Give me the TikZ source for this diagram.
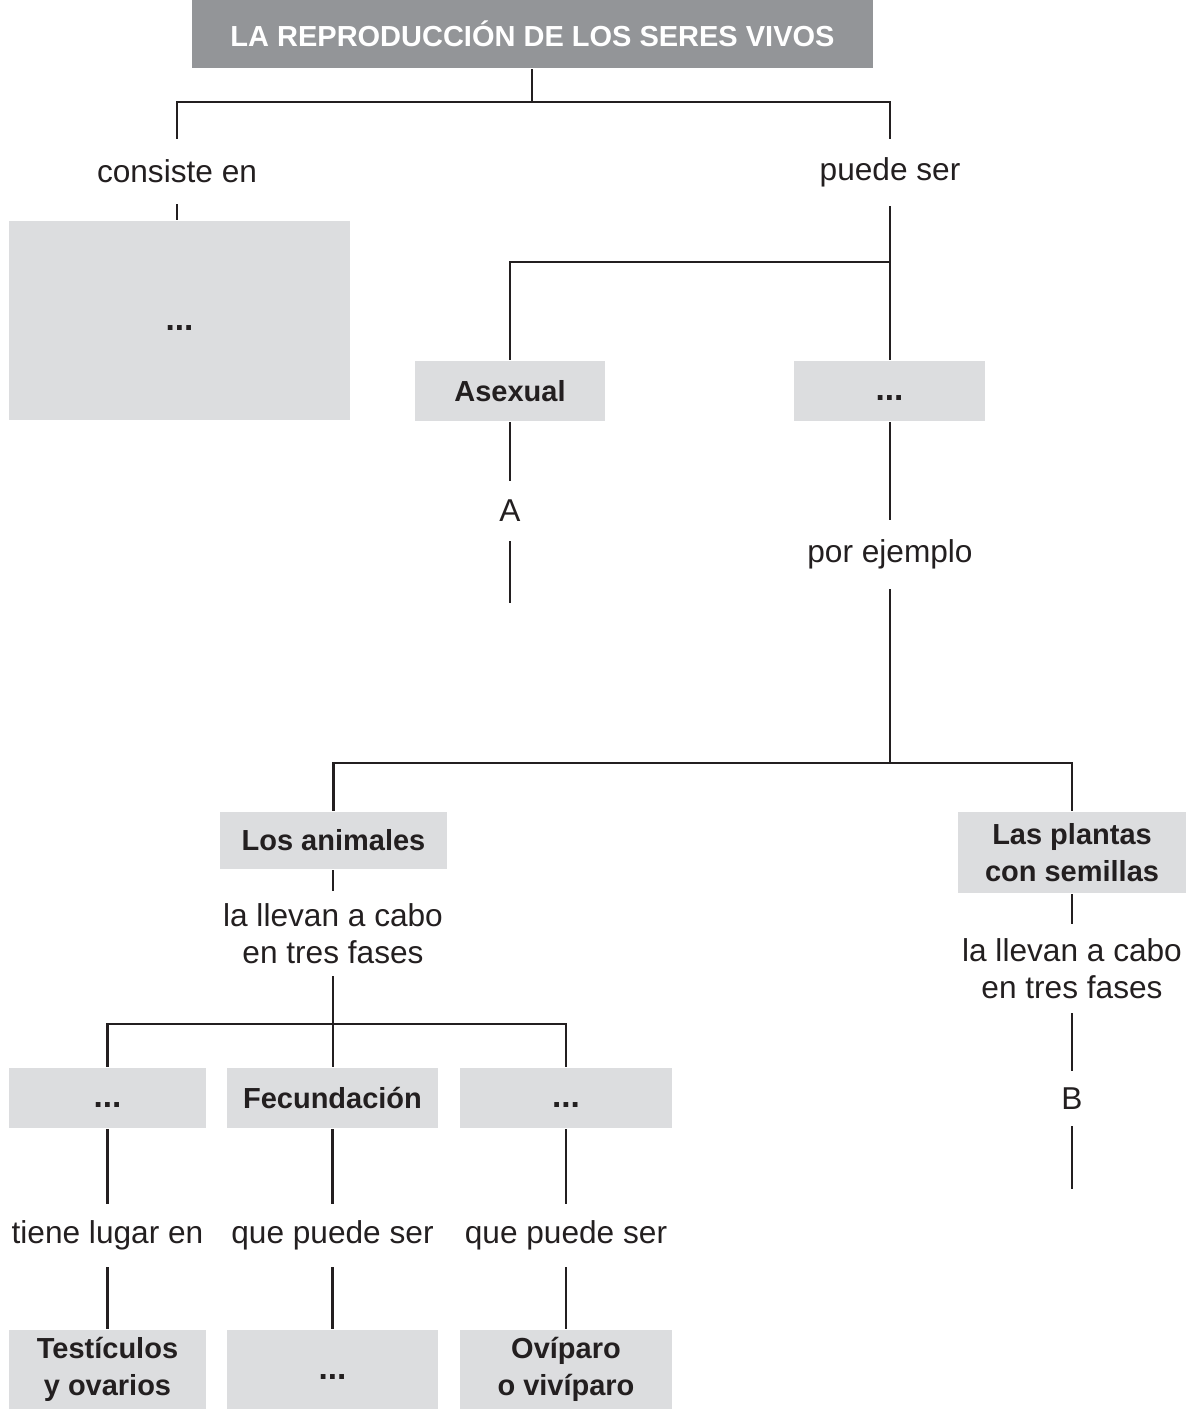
\documentclass[tikz,border=0pt]{standalone}
\usepackage{fontspec}
\setmainfont{Liberation Sans}
\definecolor{titlegray}{HTML}{939598}
\definecolor{boxgray}{HTML}{DCDDDF}
\definecolor{ink}{HTML}{231F20}
\newcommand{\blank}{\vphantom{A}{\fontsize{19}{21}\selectfont...}}
\tikzset{
  concept/.style={fill=boxgray, inner sep=0pt, text=ink, align=center,
    font=\bfseries\fontsize{16.5}{21}\selectfont},
  linklabel/.style={inner sep=0pt, minimum height=1.2cm, text=ink, align=center,
    font=\fontsize{18}{21}\selectfont},
}
\begin{document}
\begin{tikzpicture}[x=0.02cm, y=-0.02cm, color=ink, line width=1.2pt]
            \useasboundingbox (0,0) rectangle (1189,1409);
            % title and first split
            \node[fill=titlegray, text=white, inner sep=0pt, minimum width=13.62cm, minimum height=1.36cm,
                  font=\bfseries\fontsize{16.5}{21}\selectfont] (title) at (532.5,34) {LA REPRODUCCIÓN DE LOS SERES VIVOS};
            \coordinate (jtop) at (532,102);
            \node[linklabel, minimum height=1.26cm] (cons) at (177,171.5) {consiste en};
            \node[linklabel, minimum height=1.3cm] (puede) at (890,172.5) {puede ser};
            \draw (title.south -| jtop) -- (jtop);
            \draw (cons.north) |- (jtop) -| (puede.north);
            
            \node[concept, minimum width=6.82cm, minimum height=3.98cm] (res) at (179.5,320.5) {\blank};
            \draw (cons.south) -- (cons.south |- res.north);
            
            % asexual / sexual
            \node[concept, minimum width=3.8cm, minimum height=1.2cm] (asexual) at (510,391) {Asexual};
            \node[concept, minimum width=3.82cm, minimum height=1.2cm] (sexual) at (889.5,391) {\blank};
            \coordinate (jtype) at (890,262);
            \draw (puede.south) -- (puede.south |- sexual.north);
            \draw (jtype) -| (asexual.north);
            
            \node[linklabel, minimum height=1.16cm] (lblA) at (510,511) {A};
            \coordinate (endA) at (510,603);
            \draw (asexual.south) -- (lblA.north);
            \draw (lblA.south) -- (endA);
            
            \node[linklabel, minimum height=1.34cm] (ejemplo) at (890,554.5) {por ejemplo};
            \draw (ejemplo.north |- sexual.south) -- (ejemplo.north);
            
            % animales y plantas
            \node[concept, minimum width=4.54cm, minimum height=1.14cm] (animales) at (333.5,840.5) {Los animales};
            \node[concept, minimum width=4.56cm, minimum height=1.62cm] (plantas) at (1072,852.5) {Las plantas\\con semillas};
            \coordinate (jkind) at (890,763);
            \draw (ejemplo.south) -- (jkind);
            \draw (animales.north) |- (jkind) -| (plantas.north);
            
            \node[linklabel, minimum height=1.66cm] (fasesA) at (333,933.5) {la llevan a cabo\\en tres fases};
            \node[linklabel, minimum height=1.74cm] (fasesP) at (1072,968.5) {la llevan a cabo\\en tres fases};
            \draw (fasesA.north |- animales.south) -- (fasesA.north);
            \draw (plantas.south) -- (fasesP.north);
            
            \node[linklabel, minimum height=1.06cm] (lblB) at (1072,1098.5) {B};
            \coordinate (endB) at (1072,1189);
            \draw (fasesP.south) -- (lblB.north);
            \draw (lblB.south) -- (endB);
            
            % fases de los animales
            \node[concept, minimum width=3.94cm, minimum height=1.2cm] (faseI) at (107.5,1098) {\blank};
            \node[concept, minimum width=4.22cm, minimum height=1.2cm] (fecund) at (332.5,1098) {Fecundación};
            \node[concept, minimum width=4.24cm, minimum height=1.2cm] (faseIII) at (566,1098) {\blank};
            \coordinate (jphase) at (333,1024);
            \draw (fasesA.south) -- (fasesA.south |- fecund.north);
            \draw (faseI.north) |- (jphase) -| (faseIII.north);
            
            \node[linklabel, minimum height=1.22cm] (lugar) at (107.5,1235.5) {tiene lugar en};
            \node[linklabel, minimum height=1.22cm] (tipoF) at (332.5,1235.5) {que puede ser};
            \node[linklabel, minimum height=1.22cm] (tipoD) at (566,1235.5) {que puede ser};
            \draw (faseI.south) -- (lugar.north);
            \draw (fecund.south) -- (tipoF.north);
            \draw (faseIII.south) -- (tipoD.north);
            
            \node[concept, minimum width=3.94cm, minimum height=1.58cm] (gonadas) at (107.5,1369.5) {Testículos\\y ovarios};
            \node[concept, minimum width=4.22cm, minimum height=1.58cm] (fecTipo) at (332.5,1369.5) {\blank};
            \node[concept, minimum width=4.24cm, minimum height=1.58cm] (desarrollo) at (566,1369.5) {Ovíparo\\o vivíparo};
            \draw (lugar.south) -- (gonadas.north);
            \draw (tipoF.south) -- (fecTipo.north);
            \draw (tipoD.south) -- (desarrollo.north);
        \end{tikzpicture}
\end{document}
